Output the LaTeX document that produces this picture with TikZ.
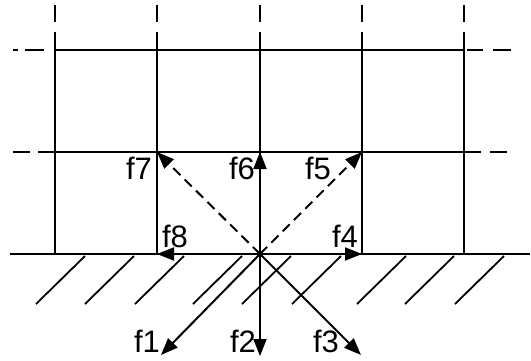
\documentclass[tikz,border=0pt]{standalone}
\usepackage{fontspec}
\setmainfont{Liberation Sans}
\usetikzlibrary{arrows.meta}

\begin{document}
\begin{tikzpicture}[
  x=1pt,y=-1pt,
  grid/.style={line width=2pt},
  hatch/.style={line width=1.8pt},
  vec/.style={line width=2pt,-{Triangle[length=17pt,width=13pt]}},
  dvec/.style={vec,dash pattern=on 10pt off 6pt},
  lbl/.style={font=\fontsize{31}{31}\selectfont,inner sep=0pt}
]
\useasboundingbox (0,0) rectangle (531,360);
% lattice
\foreach \x in {55,157,260,362,464}
  \draw[grid,dash pattern=on 17pt off 10pt on 300pt] (\x,5) -- (\x,254);
\draw[grid,dash pattern=on 5pt off 7pt on 19pt off 11pt on 409pt off 3pt on 16pt off 10pt on 18pt] (13,50) -- (511,50);
\draw[grid,dash pattern=on 17pt off 8pt on 443pt off 9pt on 17pt] (13,152) -- (507,152);
% wall
\draw[grid] (10,254) -- (530,254);
\foreach \b in {36,85,135,193,242,292,357,405,455}
  \draw[hatch] (\b,304) -- ++(49,-48);
% velocity directions
\coordinate (o) at (260,254);
\coordinate (e7) at (157,152);
\coordinate (e6) at (260,152);
\coordinate (e5) at (362,152);
\coordinate (e8) at (157,254);
\coordinate (e4) at (362,254);
\coordinate (e1) at (161,355);
\coordinate (e2) at (260,356);
\coordinate (e3) at (361,355);
\draw[dvec] (o) -- (e7);
\draw[dvec] (o) -- (e6);
\draw[dvec] (o) -- (e5);
\draw[vec] (o) -- (e8);
\draw[vec] (o) -- (e4);
\draw[vec] (o) -- (e1);
\draw[vec] (o) -- (e2);
\draw[vec] (o) -- (e3);
% labels
\node[lbl] (f7) at (139,168) {f7};
\node[lbl] (f6) at (242,168) {f6};
\node[lbl] (f5) at (318,168) {f5};
\node[lbl] (f8) at (175,236) {f8};
\node[lbl] (f4) at (345,236) {f4};
\node[lbl] (f1) at (147,341) {f1};
\node[lbl] (f2) at (243,341) {f2};
\node[lbl] (f3) at (326,341) {f3};
\end{tikzpicture}
\end{document}
